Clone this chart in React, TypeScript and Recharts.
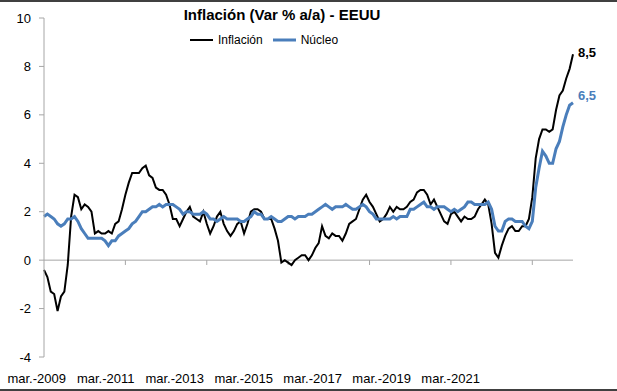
import React from "react"
import { LineChart, Line, XAxis, YAxis, ReferenceLine, Legend } from "recharts"

const FONT = "'Liberation Sans', Arial, sans-serif"

// US CPI y/y and core CPI y/y, monthly, mar.-2009 .. mar.-2022
const inflacion = [
  -0.4, -0.7, -1.3, -1.4, -2.1, -1.5, -1.3, -0.2, 1.8, 2.7,
  2.6, 2.1, 2.3, 2.2, 2.0, 1.1, 1.2, 1.1, 1.1, 1.2, 1.1, 1.5,
  1.6, 2.1, 2.7, 3.2, 3.6, 3.6, 3.6, 3.8, 3.9, 3.5, 3.4, 3.0,
  2.9, 2.9, 2.7, 2.3, 1.7, 1.7, 1.4, 1.7, 2.0, 2.2, 1.8, 1.7,
  1.6, 2.0, 1.5, 1.1, 1.4, 1.8, 2.0, 1.5, 1.2, 1.0, 1.2, 1.5,
  1.6, 1.1, 1.5, 2.0, 2.1, 2.1, 2.0, 1.7, 1.7, 1.7, 1.3, 0.8,
  -0.1, 0.0, -0.1, -0.2, 0.0, 0.1, 0.2, 0.2, 0.0, 0.2, 0.5, 0.7,
  1.4, 1.0, 0.9, 1.1, 1.0, 1.0, 0.8, 1.1, 1.5, 1.6, 1.7, 2.1,
  2.5, 2.7, 2.4, 2.2, 1.9, 1.6, 1.7, 1.9, 2.2, 2.0, 2.2, 2.1,
  2.1, 2.2, 2.4, 2.5, 2.8, 2.9, 2.9, 2.7, 2.3, 2.5, 2.2, 1.9,
  1.6, 1.5, 1.9, 2.0, 1.8, 1.6, 1.8, 1.7, 1.7, 1.8, 2.1, 2.3,
  2.5, 2.3, 1.5, 0.3, 0.1, 0.6, 1.0, 1.3, 1.4, 1.2, 1.2, 1.4,
  1.4, 1.7, 2.6, 4.2, 5.0, 5.4, 5.4, 5.3, 5.4, 6.2, 6.8, 7.0,
  7.5, 7.9, 8.5,
]

const nucleo = [
  1.8, 1.9, 1.8, 1.7, 1.5, 1.4, 1.5, 1.7, 1.7, 1.8,
  1.6, 1.3, 1.1, 0.9, 0.9, 0.9, 0.9, 0.9, 0.8, 0.6, 0.8, 0.8,
  1.0, 1.1, 1.2, 1.3, 1.5, 1.6, 1.8, 2.0, 2.0, 2.1, 2.2, 2.2,
  2.3, 2.2, 2.3, 2.3, 2.3, 2.2, 2.1, 1.9, 2.0, 2.0, 1.9, 1.9,
  1.9, 2.0, 1.9, 1.7, 1.7, 1.6, 1.7, 1.8, 1.7, 1.7, 1.7, 1.7,
  1.6, 1.6, 1.7, 1.8, 2.0, 1.9, 1.9, 1.7, 1.7, 1.8, 1.7, 1.6,
  1.6, 1.7, 1.8, 1.8, 1.7, 1.8, 1.8, 1.8, 1.9, 1.9, 2.0, 2.1,
  2.2, 2.3, 2.2, 2.1, 2.2, 2.2, 2.2, 2.3, 2.2, 2.1, 2.1, 2.2,
  2.3, 2.2, 2.0, 1.9, 1.7, 1.7, 1.7, 1.7, 1.7, 1.8, 1.7, 1.8,
  1.8, 1.8, 2.1, 2.1, 2.2, 2.3, 2.4, 2.2, 2.2, 2.1, 2.2, 2.2,
  2.2, 2.1, 2.0, 2.1, 2.0, 2.1, 2.2, 2.4, 2.4, 2.3, 2.3, 2.3,
  2.3, 2.4, 2.1, 1.4, 1.2, 1.2, 1.6, 1.7, 1.7, 1.6, 1.6, 1.6,
  1.4, 1.3, 1.6, 3.0, 3.8, 4.5, 4.3, 4.0, 4.0, 4.6, 4.9, 5.5,
  6.0, 6.4, 6.5,
]

const meses = ["ene.", "feb.", "mar.", "abr.", "may.", "jun.", "jul.", "ago.", "sep.", "oct.", "nov.", "dic."]
const xTicks = ["mar.-2009", "mar.-2011", "mar.-2013", "mar.-2015", "mar.-2017", "mar.-2019", "mar.-2021"]
const yTicks = [-4, -2, 0, 2, 4, 6, 8, 10]

// month labels starting at mar.-2009
const categorias = inflacion.map((_, i) => {
  const m = (2 + i) % 12
  const y = 2009 + Math.floor((2 + i) / 12)
  return `${meses[m]}-${y}`
})

const data = categorias.map((mes, i) => ({ mes, inflacion: inflacion[i], nucleo: nucleo[i] }))
const last = data.length - 1

const fmt = (v: number) => v.toFixed(1).replace(".", ",")

function XTick({ x, y, payload, index }: any) {
  // labels in the source sit a bit left of their tick marks
  const shift = 7.3 + 12.4 * index
  return (
    <text x={x - shift} y={y + 18} textAnchor="middle" fontSize={13} fontFamily={FONT} fill="#000">
      {payload.value}
    </text>
  )
}

function endLabel(color: string, dy: number) {
  return (p: any) => {
    if (p.index !== last) return <g />
    return (
      <text x={p.x + 5} y={p.y + dy} fontSize={13} fontWeight="bold" fontFamily={FONT} fill={color}>
        {fmt(p.value)}
      </text>
    )
  }
}

function LegendContent({ payload }: any) {
  return (
    <div style={{ display: "flex", alignItems: "center", fontFamily: FONT, fontSize: 12, color: "#000" }}>
      {(payload || []).map((e: any, i: number) => (
        <div key={i} style={{ display: "flex", alignItems: "center", marginRight: 10 }}>
          <svg width={23} height={6}>
            <line x1={0} y1={3} x2={23} y2={3} stroke={e.color} strokeWidth={i === 0 ? 2 : 3} />
          </svg>
          <span style={{ marginLeft: 5 }}>{e.value}</span>
        </div>
      ))}
    </div>
  )
}

export default function App() {
  return (
    <div
      style={{
        position: "relative",
        width: 617,
        height: 391,
        boxSizing: "border-box",
        borderTop: "2px solid #404040",
        borderBottom: "2px solid #404040",
        background: "#fff",
      }}
    >
      <style>{"body{margin:0}"}</style>
      <div
        style={{
          position: "absolute",
          top: 4,
          left: 14,
          width: 536,
          textAlign: "center",
          fontFamily: FONT,
          fontWeight: "bold",
          fontSize: 15,
          lineHeight: "17px",
          whiteSpace: "nowrap",
          color: "#000",
          zIndex: 2,
        }}
      >
        Inflación (Var % a/a) - EEUU
      </div>
      <LineChart width={617} height={387} data={data} margin={{ top: 16, right: 44, left: 0, bottom: 0 }}>
        <XAxis
          dataKey="mes"
          ticks={xTicks}
          interval={0}
          axisLine={false}
          tickLine={false}
          height={32}
          tick={<XTick />}
        />
        <YAxis
          domain={[-4, 10]}
          ticks={yTicks}
          width={44}
          axisLine={{ stroke: "#a6a6a6" }}
          tickLine={{ stroke: "#a6a6a6" }}
          tickSize={5}
          tickMargin={8}
          tick={{ fontSize: 13, fill: "#000", fontFamily: FONT }}
        />
        <ReferenceLine y={0} stroke="#a6a6a6" />
        {xTicks.slice(1).map((t) => (
          <ReferenceLine
            key={t}
            stroke="#a6a6a6"
            segment={[
              { x: t, y: 0 },
              { x: t, y: -0.2 },
            ]}
          />
        ))}
        <Legend
          verticalAlign="middle"
          align="center"
          content={<LegendContent />}
          wrapperStyle={{ top: 31, left: 190, width: "auto" }}
        />
        <Line
          dataKey="inflacion"
          name="Inflación"
          stroke="#000"
          strokeWidth={2}
          dot={false}
          isAnimationActive={false}
          label={endLabel("#000", 3)}
        />
        <Line
          dataKey="nucleo"
          name="Núcleo"
          stroke="#4a7ebb"
          strokeWidth={3}
          dot={false}
          isAnimationActive={false}
          label={endLabel("#4a7ebb", -3)}
        />
      </LineChart>
    </div>
  )
}
